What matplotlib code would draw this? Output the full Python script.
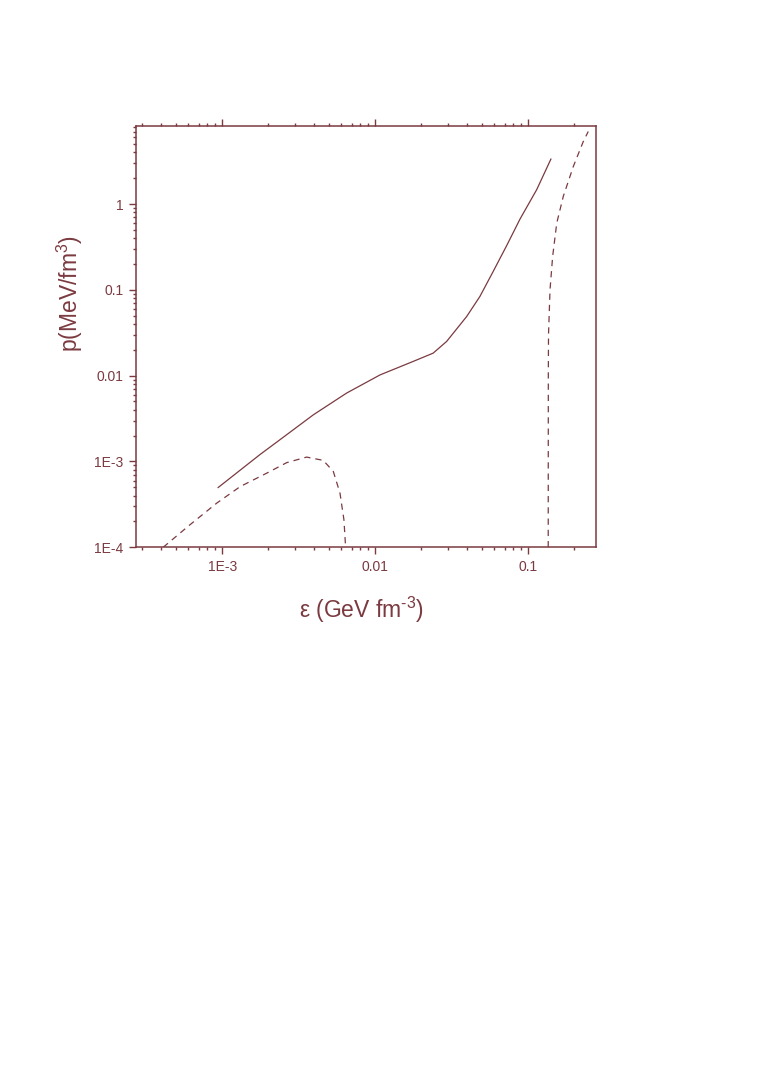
import numpy as np
import matplotlib
matplotlib.use("Agg")
import matplotlib.pyplot as plt
from matplotlib.ticker import LogLocator, FixedLocator, FixedFormatter, NullFormatter

# -------------------------
# DATA
# -------------------------
# solid curve
eps_solid = [9.4e-4, 1.76e-3, 2.38e-3, 3.94e-3, 6.5e-3, 0.01074, 0.0177, 0.0239,
             0.0293, 0.0396, 0.0483, 0.059, 0.0722, 0.0883, 0.1135, 0.1406]
p_solid = [4.97e-4, 1.2e-3, 1.79e-3, 3.5e-3, 6.27e-3, 0.0102, 0.01466, 0.0183,
           0.0251, 0.049, 0.0838, 0.164, 0.327, 0.668, 1.47, 3.34]

# low-density dashed curve
eps_dash1 = [4.11e-4, 6.15e-4, 9.2e-4, 1.31e-3, 1.95e-3, 2.64e-3, 3.56e-3,
             4.57e-3, 5.32e-3, 5.88e-3, 6.24e-3, 6.4e-3]
p_dash1 = [1.0e-4, 1.83e-4, 3.27e-4, 5.1e-4, 7.3e-4, 9.7e-4, 1.125e-3,
           1.03e-3, 7.64e-4, 4.28e-4, 2.09e-4, 1.0e-4]

# high-density dashed curve
eps_dash2 = [0.1350, 0.1351, 0.1352, 0.1356, 0.1387, 0.1443, 0.1535, 0.1694,
             0.197, 0.229, 0.2466]
p_dash2 = [1.0e-4, 1.0e-3, 0.01, 0.03, 0.1, 0.245, 0.6, 1.23, 2.74, 5.37, 7.0]

x_ticks = [1e-3, 1e-2, 1e-1]
x_labels = ["1E-3", "0.01", "0.1"]
y_ticks = [1e-4, 1e-3, 1e-2, 1e-1, 1]
y_labels = ["1E-4", "1E-3", "0.01", "0.1", "1"]

# -------------------------
# STYLE
# -------------------------
COLOR = "#7a3a40"
plt.rcParams["font.family"] = ["Liberation Sans", "DejaVu Sans"]
plt.rcParams["mathtext.fontset"] = "custom"
plt.rcParams["mathtext.rm"] = "Liberation Sans"
plt.rcParams["mathtext.default"] = "regular"

fig = plt.figure(figsize=(7.63, 10.90), dpi=100)
ax = fig.add_axes([0.1782, 0.4979, 0.6025, 0.3868])

ax.plot(eps_solid, p_solid, color=COLOR, lw=0.9)
ax.plot(eps_dash1, p_dash1, color=COLOR, lw=0.9, dashes=(5, 4))
ax.plot(eps_dash2, p_dash2, color=COLOR, lw=0.9, dashes=(5, 4))

ax.set_xscale("log")
ax.set_yscale("log")
ax.set_xlim(10 ** -3.564, 10 ** -0.5595)
ax.set_ylim(1e-4, 10 ** 0.913)

ax.xaxis.set_major_locator(FixedLocator(x_ticks))
ax.xaxis.set_major_formatter(FixedFormatter(x_labels))
ax.yaxis.set_major_locator(FixedLocator(y_ticks))
ax.yaxis.set_major_formatter(FixedFormatter(y_labels))
ax.xaxis.set_minor_locator(LogLocator(base=10, subs=np.arange(2, 10), numticks=20))
ax.yaxis.set_minor_locator(LogLocator(base=10, subs=np.arange(2, 10), numticks=20))
ax.xaxis.set_minor_formatter(NullFormatter())
ax.yaxis.set_minor_formatter(NullFormatter())

ax.tick_params(which="both", direction="out", colors=COLOR, width=1.0,
               top=True, right=False, labelsize=10, pad=4)
ax.tick_params(which="major", length=5)
ax.tick_params(which="minor", length=2.5)
for s in ax.spines.values():
    s.set_color(COLOR)
    s.set_linewidth(1.1)

ax.set_xlabel(r"ε (GeV fm$^{\text{-3}}$)", fontsize=16.5, color=COLOR)
ax.set_ylabel(r"p(MeV/fm$^{3}$)", fontsize=16.5, color=COLOR)
ax.xaxis.set_label_coords(0.49, -0.113)
ax.yaxis.set_label_coords(-0.111, 0.601)

fig.savefig("out.png", dpi=100)
